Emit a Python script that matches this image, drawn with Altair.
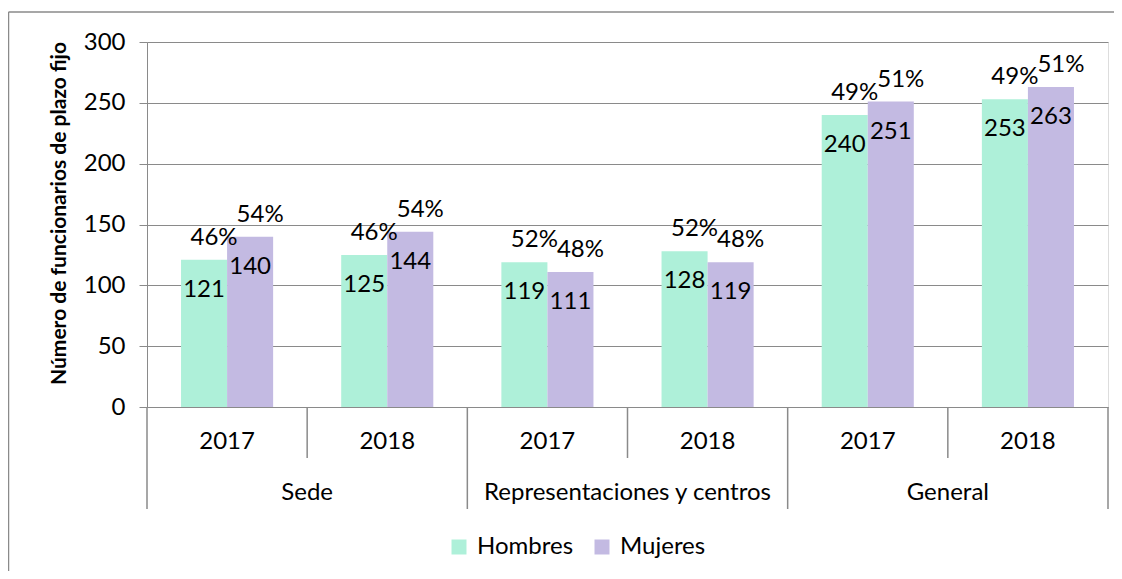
import altair as alt
import pandas as pd

# ---- data ----
groups = ["Sede", "Sede", "Representaciones y centros", "Representaciones y centros", "General", "General"]
years = ["2017", "2018", "2017", "2018", "2017", "2018"]
hombres = [121, 125, 119, 128, 240, 253]
mujeres = [140, 144, 111, 119, 251, 263]
pct_hombres = [46, 46, 52, 52, 49, 49]
pct_mujeres = [54, 54, 48, 48, 51, 51]
group_names = ["Sede", "Representaciones y centros", "General"]
series = ["Hombres", "Mujeres"]
colors = ["#AEF0D9", "#C3BAE2"]

FONT = "Lato"
FS = 24
GRID = "#8A8A8A"
W, H = 961, 365

rows = []
for i in range(len(years)):
    rows.append({"key": str(i), "sexo": "Hombres", "valor": hombres[i], "pct": f"{pct_hombres[i]}%"})
    rows.append({"key": str(i), "sexo": "Mujeres", "valor": mujeres[i], "pct": f"{pct_mujeres[i]}%"})
df = pd.DataFrame(rows)
keys = [str(i) for i in range(len(years))]

year_df = pd.DataFrame({"pos": [i + 0.5 for i in range(len(years))], "label": years})
grp_df = pd.DataFrame({"pos": [2 * j + 1 for j in range(len(group_names))], "label": group_names})
long_sep = pd.DataFrame({"pos": [0, 2, 4, 6]})
short_sep = pd.DataFrame({"pos": [1, 3, 5]})

xband = alt.X("key:N", sort=keys, axis=None,
              scale=alt.Scale(paddingInner=0.425, paddingOuter=0.2125))
xoff = alt.XOffset("sexo:N", sort=series)
yq = alt.Y("valor:Q",
           scale=alt.Scale(domain=[0, 300], nice=False),
           axis=alt.Axis(values=[0, 50, 100, 150, 200, 250, 300],
                         title="Número de funcionarios de plazo fijo",
                         titleFont=FONT, titleFontSize=21, titleFontWeight="bold",
                         titleColor="#000000", titleX=-88, titleY=171,
                         titleAngle=270, titleAlign="center", titleBaseline="middle",
                         labelFont=FONT, labelFontSize=FS, labelColor="#000000",
                         labelPadding=14, tickSize=8, tickColor=GRID,
                         domainColor=GRID, gridColor=GRID, grid=True))

bars = alt.Chart(df).mark_bar().encode(
    x=xband, xOffset=xoff, y=yq,
    color=alt.Color("sexo:N", sort=series,
                    scale=alt.Scale(domain=series, range=colors),
                    legend=alt.Legend(title=None, orient="none", direction="horizontal",
                                      legendX=300, legendY=493,
                                      symbolType="square", symbolSize=225,
                                      symbolStrokeWidth=0, labelFont=FONT,
                                      labelFontSize=FS, labelColor="#000000",
                                      columnPadding=16, labelOffset=6)),
)

vals = alt.Chart(df).mark_text(font=FONT, fontSize=FS, color="#000000",
                               baseline="middle", dy=30).encode(
    x=xband, xOffset=xoff, y=alt.Y("valor:Q"), text="valor:Q")

pcts = alt.Chart(df).mark_text(font=FONT, fontSize=FS, color="#000000",
                               baseline="middle", dy=-22, dx=10).encode(
    x=xband, xOffset=xoff, y=alt.Y("valor:Q"), text="pct:N")

xlin = alt.Scale(domain=[0, 6], nice=False, zero=False)

seps_long = alt.Chart(long_sep).mark_rule(color=GRID, strokeWidth=1.5).encode(
    x=alt.X("pos:Q", scale=xlin, axis=None),
    y=alt.value(H), y2=alt.value(H + 102))
seps_short = alt.Chart(short_sep).mark_rule(color=GRID, strokeWidth=1.5).encode(
    x=alt.X("pos:Q", scale=xlin, axis=None),
    y=alt.value(H), y2=alt.value(H + 51))
year_txt = alt.Chart(year_df).mark_text(font=FONT, fontSize=FS, color="#000000",
                                        baseline="middle").encode(
    x=alt.X("pos:Q", scale=xlin, axis=None), y=alt.value(H + 35), text="label:N")
grp_txt = alt.Chart(grp_df).mark_text(font=FONT, fontSize=FS, color="#000000",
                                      baseline="middle").encode(
    x=alt.X("pos:Q", scale=xlin, axis=None), y=alt.value(H + 86), text="label:N")

frame_left = alt.Chart(pd.DataFrame({"a": [0]})).mark_rule(color=GRID, strokeWidth=1.5).encode(
    x=alt.value(-138.5), y=alt.value(-30), y2=alt.value(540))
frame_top = alt.Chart(pd.DataFrame({"a": [0]})).mark_rule(color=GRID, strokeWidth=1.5).encode(
    x=alt.value(-138.5), x2=alt.value(990), y=alt.value(-30))

chart = alt.layer(bars, vals, pcts, seps_long, seps_short, year_txt, grp_txt,
                  frame_left, frame_top).resolve_scale(x="independent").properties(
    width=W, height=H,
    autosize=alt.AutoSizeParams(type="none"),
    padding={"left": 139, "top": 34, "right": 6, "bottom": 164},
).configure_view(stroke=None).configure(background="white")

chart.save("out.html", embed_options={"renderer": "svg", "actions": False})
